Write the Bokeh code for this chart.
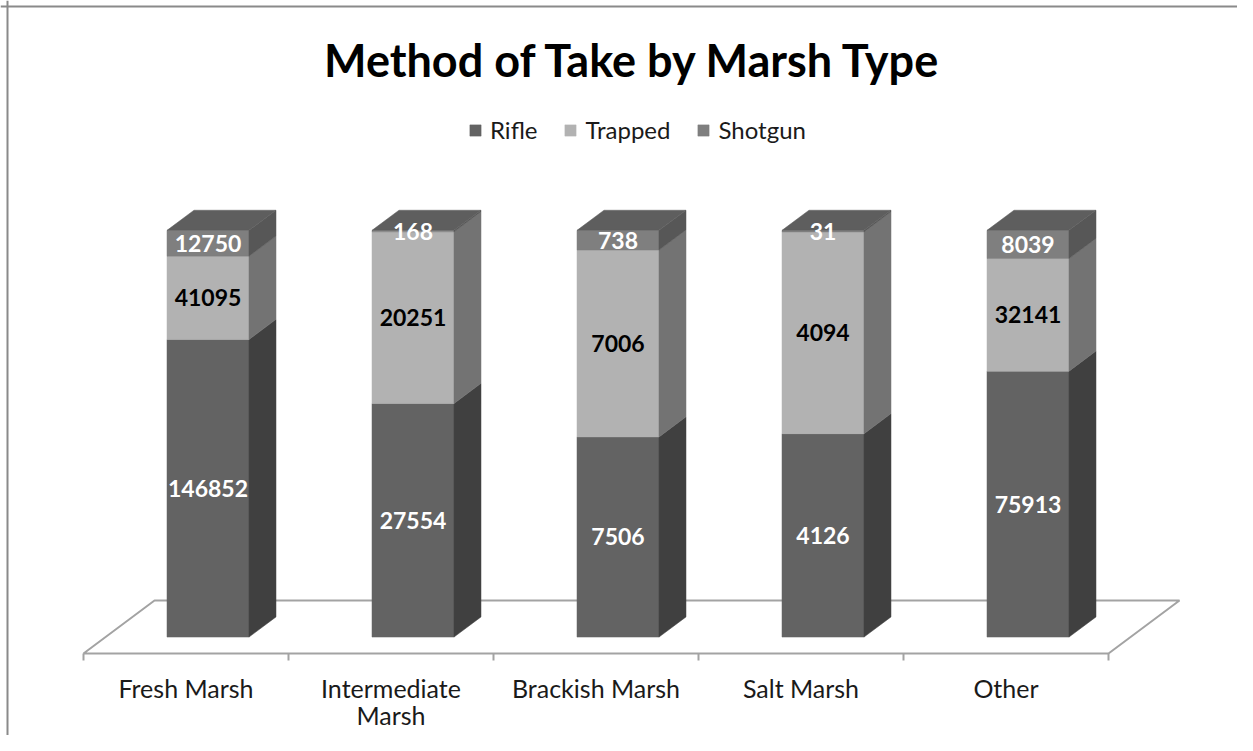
from bokeh.plotting import figure
from bokeh.models import Legend, LegendItem, Label, Span
from bokeh.core.properties import value
from bokeh.embed import file_html
from bokeh.resources import INLINE

# ---------------- data ----------------
categories = ["Fresh Marsh", "Intermediate\nMarsh", "Brackish Marsh", "Salt Marsh", "Other"]
series_names = ["Rifle", "Trapped", "Shotgun"]
rifle = [146852, 27554, 7506, 4126, 75913]
trapped = [41095, 20251, 7006, 4094, 32141]
shotgun = [12750, 168, 738, 31, 8039]
title_text = "Method of Take by Marsh Type"

# ---------------- style ----------------
front_colors = ["#636363", "#b2b2b2", "#7f7f7f"]
side_colors = ["#404040", "#737373", "#575757"]
top_color = "#5e5e5e"
label_colors = ["white", "black", "white"]
floor_color = "#a3a3a3"
FONT = "Lato"

W, H = 1237, 735
PX_X = 205.0          # pixels per category
PX_Y = 4.067          # pixels per percent
X0_PX, Y0_PX = 83, 82
x_start = -X0_PX / PX_X
x_end = x_start + W / PX_X
y_start = -Y0_PX / PX_Y
y_end = y_start + H / PX_Y
DX = 71 / PX_X        # full floor depth (x)
DY = 53 / PX_Y        # full floor depth (y)
D0, D1 = 0.31, 0.69   # bar depth span
BAR_W = 0.40

p = figure(width=W, height=H, x_range=(x_start, x_end), y_range=(y_start, y_end),
           output_backend="svg", toolbar_location=None, min_border=0,
           x_axis_location=None, y_axis_location=None, outline_line_color=None,
           background_fill_color="white", border_fill_color="white")
p.grid.visible = False

# chart border (left and top visible in the reference)
p.add_layout(Span(location=x_start + 7 / PX_X, dimension="height", line_color="#8a8a8a", line_width=2))
p.add_layout(Span(location=y_end - 6 / PX_Y, dimension="width", line_color="#8a8a8a", line_width=2))

# ---------------- floor ----------------
n = len(categories)
p.patch(x=[0, n, n + DX, DX], y=[0, 0, DY, DY], fill_color="white",
        line_color=floor_color, line_width=2)
ticks = list(range(n + 1))
p.segment(x0=ticks, y0=[0] * len(ticks), x1=ticks, y1=[-7 / PX_Y] * len(ticks),
          line_color=floor_color, line_width=2)

# ---------------- bars ----------------
series = [rifle, trapped, shotgun]
totals = [sum(s[i] for s in series) for i in range(n)]
fx, fy = D0 * DX, D0 * DY
ddx, ddy = (D1 - D0) * DX, (D1 - D0) * DY

renderers = []
label_x, label_y, label_t, label_c = [], [], [], []
cum = [0.0] * n
for k, s in enumerate(series):
    left, right, bottom, top = [], [], [], []
    side_xs, side_ys = [], []
    for i in range(n):
        pct = 100.0 * s[i] / totals[i]
        b = cum[i]
        t = cum[i] + pct
        cum[i] = t
        l = i + 0.5 - BAR_W / 2 + fx
        r = i + 0.5 + BAR_W / 2 + fx
        left.append(l); right.append(r); bottom.append(b + fy); top.append(t + fy)
        side_xs.append([r, r + ddx, r + ddx, r])
        side_ys.append([b + fy, b + fy + ddy, t + fy + ddy, t + fy])
        label_x.append(i + 0.5 + fx)
        label_y.append((b + t) / 2 + fy)
        label_t.append(str(s[i]))
        label_c.append(label_colors[k])
    rr = p.quad(left=left, right=right, bottom=bottom, top=top,
                fill_color=front_colors[k], line_color=front_colors[k], line_width=0.5)
    p.patches(xs=side_xs, ys=side_ys, fill_color=side_colors[k],
              line_color=side_colors[k], line_width=0.5)
    renderers.append(rr)

# top faces
top_xs, top_ys = [], []
for i in range(n):
    l = i + 0.5 - BAR_W / 2 + fx
    r = i + 0.5 + BAR_W / 2 + fx
    T = cum[i] + fy
    top_xs.append([l, r, r + ddx, l + ddx])
    top_ys.append([T, T, T + ddy, T + ddy])
p.patches(xs=top_xs, ys=top_ys, fill_color=top_color, line_color=top_color, line_width=0.5)

# value labels
p.text(x=label_x, y=label_y, text=label_t, text_color=label_c,
       text_font=value(FONT), text_font_style="bold", text_font_size="23px",
       text_align="center", text_baseline="middle")

# category labels
p.text(x=[i + 0.5 for i in range(n)], y=[0] * n, text=categories,
       text_font=value(FONT), text_font_size="25px", text_color="#1a1a1a",
       text_align="center", text_baseline="top", y_offset=19, text_line_height=0.9)

# ---------------- title ----------------
p.add_layout(Label(x=633, y=676, x_units="screen", y_units="screen", text=title_text,
                   text_font=FONT, text_font_style="bold", text_font_size="45px",
                   text_color="black", text_align="center", text_baseline="middle"))

# ---------------- legend ----------------
legend = Legend(items=[LegendItem(label=nm, renderers=[r]) for nm, r in zip(series_names, renderers)],
                orientation="horizontal", location=(468, 591), padding=0, margin=0,
                spacing=26, glyph_width=14, glyph_height=14, label_standoff=8,
                label_text_font=FONT, label_text_font_size="24px", label_text_color="#1a1a1a",
                border_line_color=None, background_fill_alpha=0, label_height=28)
p.add_layout(legend)

open("out.html", "w").write(file_html(p, INLINE))
